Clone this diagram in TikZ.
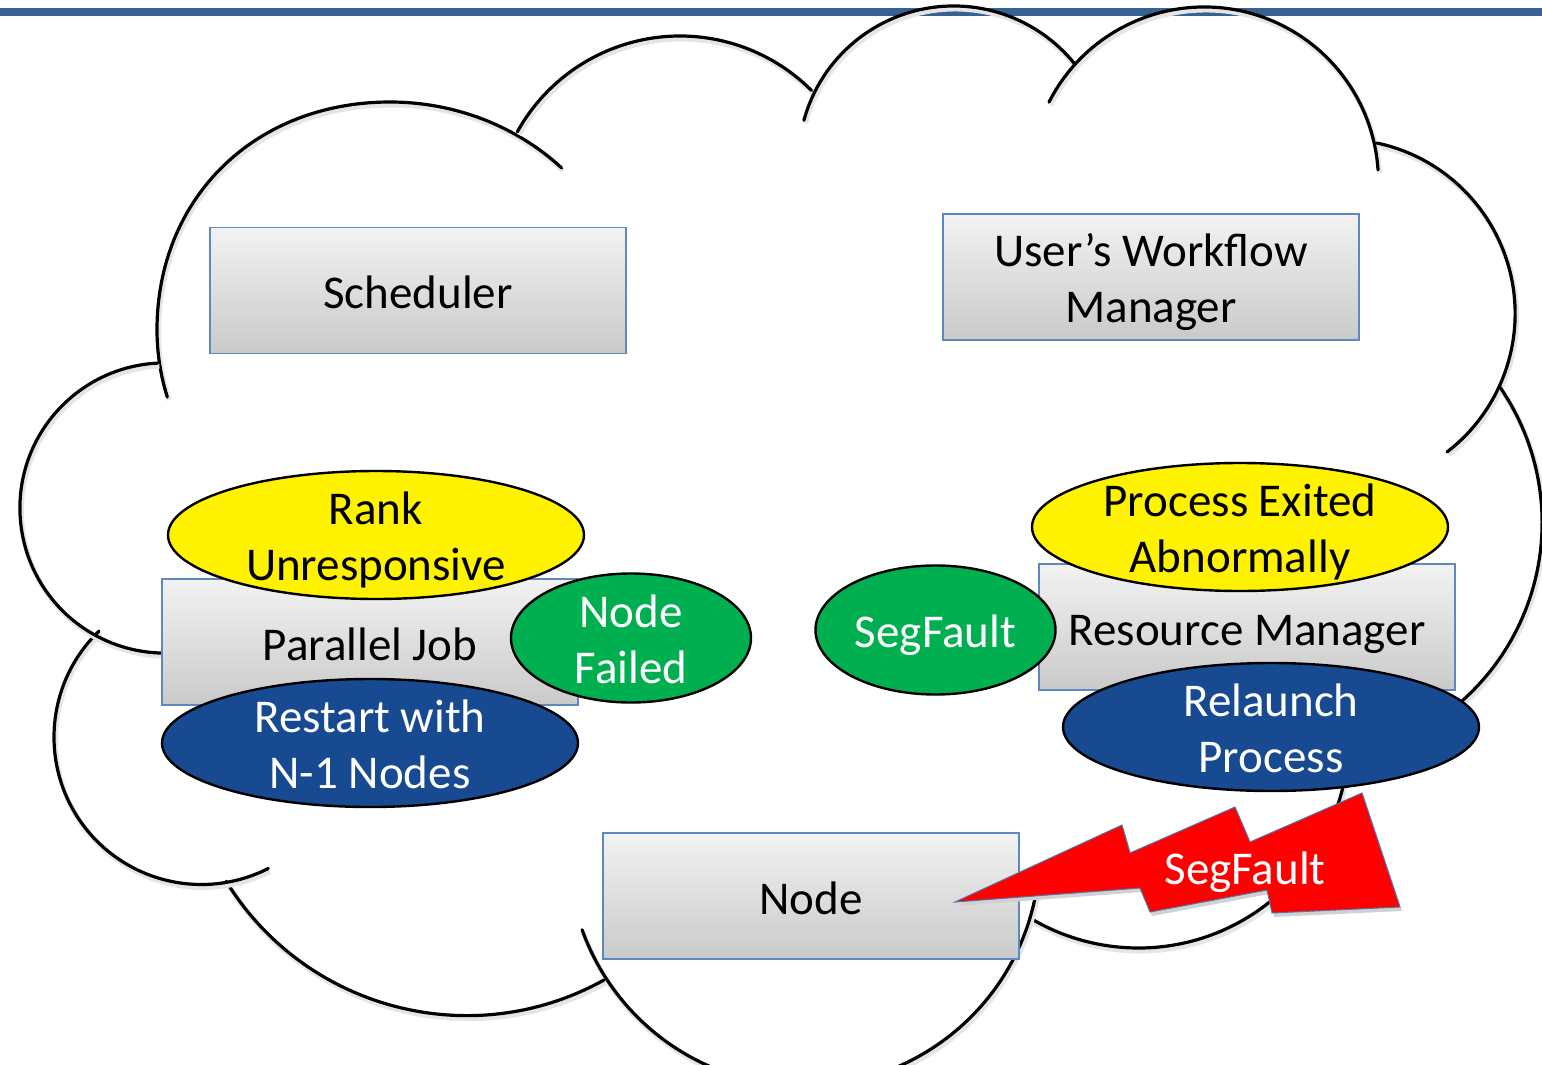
\documentclass[tikz,border=0pt]{standalone}
\usepackage{fontspec}
\setmainfont{Carlito}
\usetikzlibrary{shapes.geometric}
\definecolor{barblue}{RGB}{56,97,147}
\definecolor{boxedge}{RGB}{95,135,192}
\definecolor{failgreen}{RGB}{0,176,80}
\definecolor{actblue}{RGB}{23,74,144}
\definecolor{boltedge}{RGB}{80,115,170}
\begin{document}
\begin{tikzpicture}[x=1pt,y=-1pt,
  cloudline/.style={line width=3.2pt, line cap=round, line join=round,
    preaction={draw=black!10, line width=5pt, transform canvas={shift={(1.5pt,-3pt)}}}},
  box/.style={rectangle, draw=boxedge, line width=1.2pt, top color=gray!10, bottom color=gray!42,
    minimum width=416pt, minimum height=126pt, inner sep=0pt},
  oval/.style={ellipse, draw=black, line width=2.4pt, inner sep=0pt,
    minimum width=416pt, minimum height=128pt},
  smalloval/.style={oval, minimum width=240pt, minimum height=129pt},
  txt/.style={align=center, font=\fontsize{47}{56}\selectfont, inner sep=0pt,
    execute at begin node=\strut, execute at end node=\strut}
]
\useasboundingbox (0,0) rectangle (1542,1065);
\clip (0,0) rectangle (1542,1065);

% title rule
\fill[barblue] (0,8) rectangle (1542,16);

% cloud outline: one arc per lobe, each overlapping its neighbour a little
\draw[cloudline] (390,330) ++(162.9:233 and 228)
  arc[start angle=162.9, end angle=180, x radius=233, y radius=228]
  .. controls (157,197.8) and (254.9,102) .. (390,102)
  arc[start angle=270, end angle=314.7, x radius=244, y radius=228];
\draw[cloudline] (680,222) ++(209:186) arc[start angle=209, end angle=315, radius=186];
\draw[cloudline] (953.7,161.3) ++(195.3:155.3) arc[start angle=195.3, end angle=320.8, radius=155.3];
\draw[cloudline] (1204.2,181.2) ++(207:174.2) arc[start angle=207, end angle=356.3, radius=174.2];
\draw[cloudline] (1340.6,313.7) ++(-78:174.5) arc[start angle=-78, end angle=52.4, radius=174.5];
\draw[cloudline] (1303.5,522.6) ++(-34.9:238.6) arc[start angle=-34.9, end angle=79.3, radius=238.6];
\draw[cloudline] (1138.3,737.5) ++(5.3:210.5) arc[start angle=5.3, end angle=121, radius=210.5];
\draw[cloudline] (804.1,850.3) ++(10.5:235.8) arc[start angle=10.5, end angle=160.3, radius=235.8];
\draw[cloudline] (466.7,733.1) ++(60.9:282.5) arc[start angle=60.9, end angle=148.4, radius=282.5];
\draw[cloudline] (201.4,737.1) ++(226:147.4) arc[start angle=226, end angle=63, radius=147.4];
\draw[cloudline] (165,508) ++(267.2:145.1) arc[start angle=267.2, end angle=86, radius=145.1];

% components
\node[box] (sched) at (418,290.5) {};
\node[box] (uwm)   at (1151,277) {};
\node[box] (pjob)  at (370,642) {};
\node[box] (rm)    at (1247,627) {};
\node[box] (node)  at (811,896) {};

\node[txt] (schedtxt) at ([yshift=-7pt]sched.center) {Scheduler};
\node[txt] (uwmtxt)   at ([yshift=-9.5pt]uwm.center) {User’s Workflow\\Manager};
\node[txt] (pjobtxt)  at ([yshift=-7pt]pjob.center) {Parallel Job};
\node[txt] (rmtxt)    at ([yshift=-7pt]rm.center) {Resource Manager};
\node[txt] (nodetxt)  at ([yshift=-7pt]node.center) {Node};

% events and reactions
\node[oval, fill=yellow]     (rank)     at (376,535) {};
\node[smalloval, fill=failgreen] (nfail) at (631,638) {};
\node[oval, fill=actblue]    (restart)  at (370,743) {};
\node[smalloval, fill=failgreen] (segf) at (935.5,630) {};
\node[oval, fill=yellow]     (pexit)    at (1240,527) {};
\node[oval, fill=actblue]    (relaunch) at (1271,727) {};

\node[txt] (ranktxt) at ([yshift=-9.5pt]rank.center) {Rank\\Unresponsive};
\node[txt, text=white] (nfailtxt) at ([yshift=-9.5pt]nfail.center) {Node\\Failed};
\node[txt, text=white] (restarttxt) at ([yshift=-9.5pt]restart.center) {Restart with\\N-1 Nodes};
\node[txt, text=white] (segftxt) at ([yshift=-6pt]segf.center) {SegFault};
\node[txt] (pexittxt) at ([yshift=-9.5pt]pexit.center) {Process Exited\\Abnormally};
\node[txt, text=white] (relaunchtxt) at ([yshift=-9.5pt]relaunch.center) {Relaunch\\Process};

% lightning bolt striking the node
\draw[fill=red, draw=boltedge, line width=1pt, line join=miter,
  preaction={fill=black!18, transform canvas={shift={(2pt,-4pt)}}}]
  (955,902) -- (1122,825) -- (1130,853) -- (1235,807) -- (1250,842) -- (1362,793)
  -- (1400,907) -- (1272,913) -- (1267,890) -- (1150,912) -- (1140,888) -- cycle;
\node[txt, text=white] (bolttxt) at (1245,873) {SegFault};
\end{tikzpicture}
\end{document}
